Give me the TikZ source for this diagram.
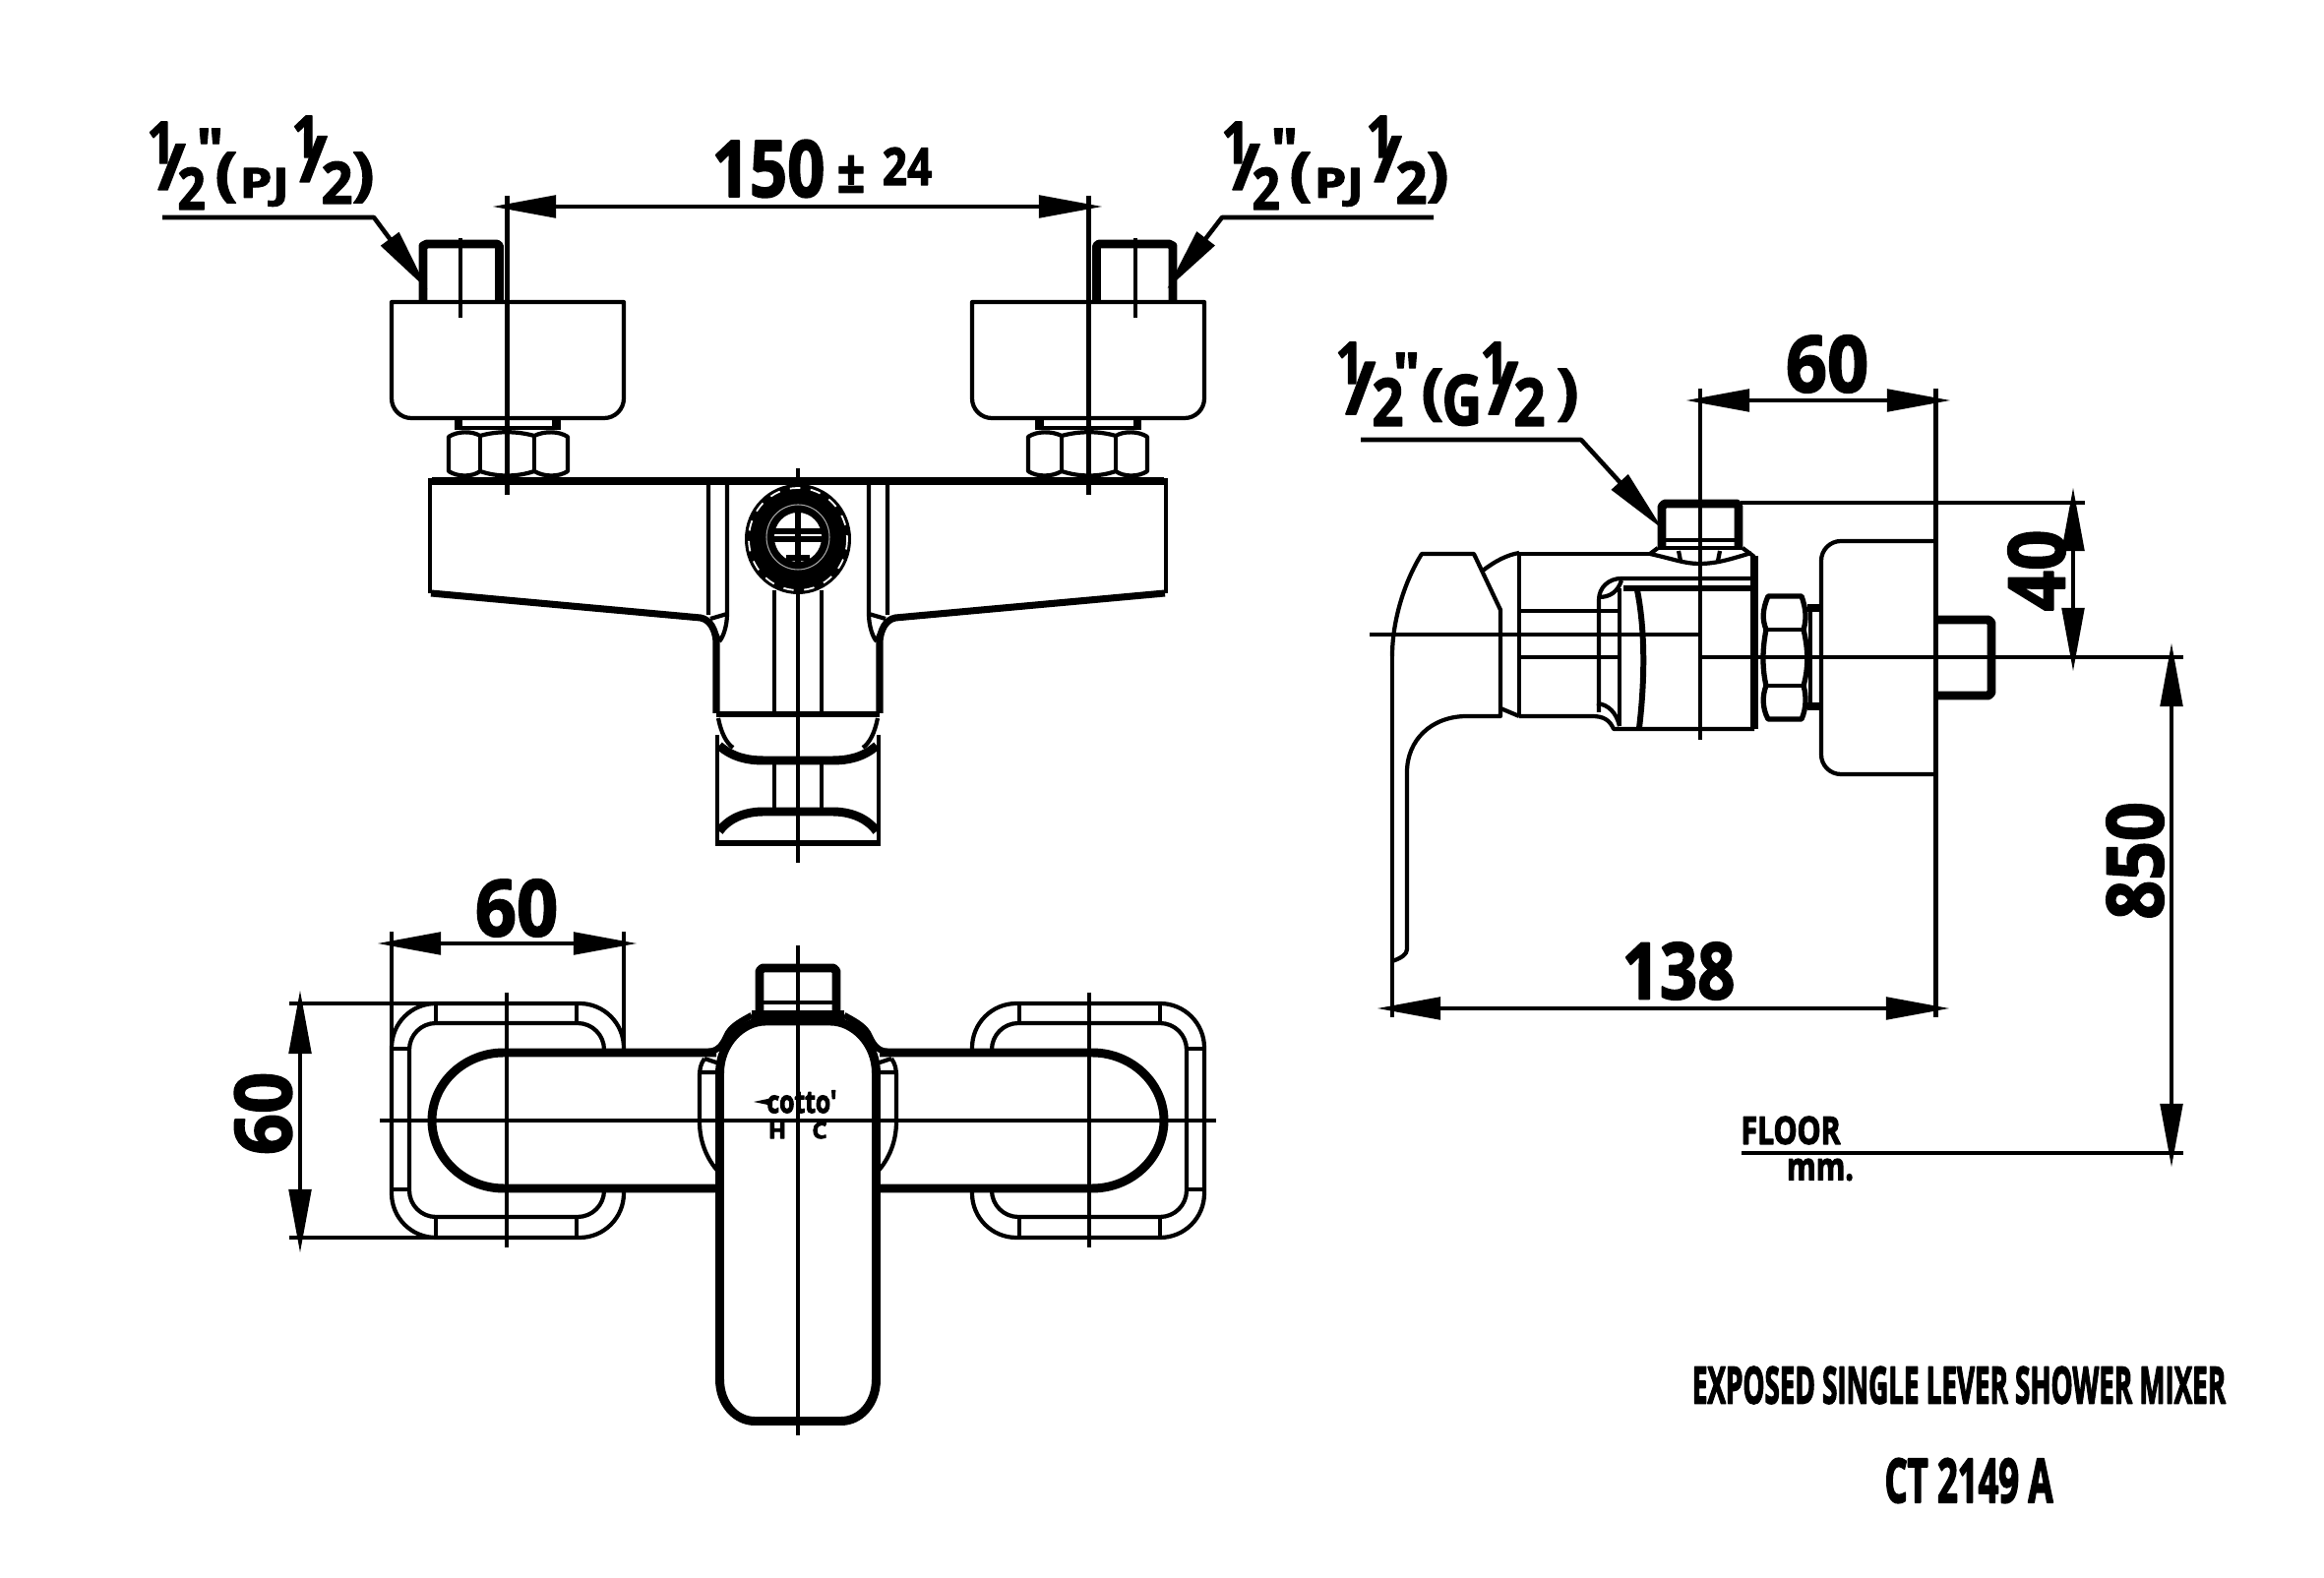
\documentclass[tikz,border=0pt]{standalone}
\usepackage{fontspec}
\newfontfamily\dimfont[BoldFeatures={FakeBold=2.2}]{Open Sans}
\newfontfamily\blobfont[BoldFeatures={FakeBold=3.5}]{Open Sans}
\usetikzlibrary{arrows.meta}
\newlength{\pxu}
\setlength{\pxu}{.2845pt}
% one glyph of a size label, placed by offset and rise in reference pixels
\newcommand{\glyphat}[3]{\rlap{\kern#1\pxu\raisebox{#2\pxu}{#3}}}
\newcommand{\narrow}[1]{\scalebox{.84}[1]{#1}}
\newcommand{\pjlabel}{%
  \glyphat{-2}{41}{\narrow{1}}%
  \glyphat{9}{14}{\scalebox{1.15}[1.1]{/}}%
  \glyphat{29}{-6}{\narrow{2}}%
  \glyphat{48}{34}{\char34}%
  \glyphat{67}{10}{\scalebox{1.15}[1]{(}}%
  \glyphat{92}{6}{\fontsize{12}{12}\selectfont\scalebox{1.25}[1]{PJ}}%
  \glyphat{145}{47}{\narrow{1}}%
  \glyphat{153}{22}{\scalebox{1.15}[1.1]{/}}%
  \glyphat{175}{0}{\scalebox{.95}[1]{2}}%
  \glyphat{206}{10}{\scalebox{1.15}[1]{)}}%
  \hspace{228\pxu}}
\newcommand{\glabel}{%
  \glyphat{-2}{41}{\narrow{1}}%
  \glyphat{8}{10}{\scalebox{1.25}[1.25]{/}}%
  \glyphat{35}{-2}{\scalebox{.95}[1.14]{2}}%
  \glyphat{56}{30}{\char34}%
  \glyphat{85}{12}{\scalebox{1.15}[1.05]{(}}%
  \glyphat{106}{-1}{\scalebox{.95}[1.2]{G}}%
  \glyphat{145}{41}{\narrow{1}}%
  \glyphat{153}{10}{\scalebox{1.25}[1.25]{/}}%
  \glyphat{179}{-2}{\scalebox{.95}[1.14]{2}}%
  \glyphat{222}{12}{\scalebox{1.15}[1.05]{)}}%
  \hspace{244\pxu}}
\tikzset{
  partline/.style={line width=1.2pt},
  heavyline/.style={line width=2.55pt},
  dimline/.style={line width=1.4pt,<->},
  leaderline/.style={line width=1.3pt,->},
  dimtext/.style={font=\dimfont\bfseries\fontsize{22.7}{24}\selectfont,inner sep=0pt,xscale=.84,transform shape},
  sizetext/.style={font=\dimfont\bfseries\fontsize{16.8}{18}\selectfont,inner sep=0pt,anchor=base west},
  smalltext/.style n args={2}{font=\blobfont\bfseries\fontsize{#1}{#1}\selectfont,inner sep=0pt,xscale=#2,transform shape}
}
\begin{document}
\begin{tikzpicture}[x=0.01cm,y=-0.01cm,>={Triangle[length=18.5pt,width=6.3pt]},line join=round]
    \useasboundingbox (0,0) rectangle (2362,1604);

    % dimension ends
    \coordinate (pitchL) at (500,210);
    \coordinate (pitchR) at (1121,210);
    \coordinate (plateL) at (383,959);
    \coordinate (plateR) at (648,959);
    \coordinate (plateT) at (305,1006);
    \coordinate (plateB) at (305,1274);
    \coordinate (depthL) at (1713,407);
    \coordinate (depthR) at (1983,407);
    \coordinate (reachL) at (1399,1025);
    \coordinate (reachR) at (1982,1025);
    \coordinate (riseT) at (2107,495);
    \coordinate (riseB) at (2107,683);
    \coordinate (floorT) at (2207,653);
    \coordinate (floorB) at (2207,1187);

    % the two mirrored halves of both front views
    \foreach \flip/\off in {1/0,-1/1622}{
    \begin{scope}[shift={(\off,0)},xscale=\flip]
        % inlet
        \draw[heavyline] (430,305) -- (430,250) -- (434,248) -- (505,248) -- (507.5,250) -- (507.5,305);
        \draw[partline] (468,242) -- (468,323);
        \draw[partline] (515.5,199) -- (515.5,503);
        \draw[partline] (398,307) [rounded corners=.2cm] -- (398,425) -- (634,425) [sharp corners] -- (634,307) -- cycle;
        \draw[heavyline] (466,425) -- (466,437);
        \draw[heavyline] (565.5,425) -- (565.5,437);
        \draw[partline] (466,435) -- (565,435);
        \draw[partline] (456,444) .. controls (465,438) and (480,438) .. (488,443) .. controls (505,438) and (525,438) .. (543,443) .. controls (553,438) and (568,438) .. (577,444) -- (577,479) .. controls (568,485) and (553,485) .. (543,479) .. controls (525,485) and (505,485) .. (488,479) .. controls (480,485) and (465,485) .. (456,479) -- cycle;
        \draw[partline] (488,443) -- (488,479) (543,443) -- (543,479);
        % body
        \draw[heavyline] (811,489) -- (439,489);
        \draw[partline] (437,486) -- (437,603);
        \draw[line width=2pt] (438,603) -- (712,628) .. controls (722,630) and (727,640) .. (728,652) -- (728,725);
        \draw[partline] (720,492) -- (720,625) (739,492) -- (739,624) .. controls (739,636) and (735,648) .. (731,652);
        \draw[partline] (722,629) -- (739,624) (722,632) -- (731,650);
        \draw[partline] (787,600) -- (787,725) (787,777) -- (787,823);
        \draw[line width=1.8pt] (728,726) -- (811,726);
        \draw[partline] (730,730) .. controls (733,745) and (738,755) .. (745,760);
        \draw[line width=1.4pt] (729,747) -- (729,857);
        \draw[line width=1.9pt] (727,857) -- (811,857);
        \draw[heavyline] (731,758) .. controls (745,770) and (760,773) .. (776,773) -- (811,773);
        \draw[heavyline] (731,845) .. controls (742,830) and (760,825) .. (776,825) -- (811,825);
        % plan view
        \draw[partline,rounded corners=.45cm] (634,1068) -- (634,1020) -- (398,1020) -- (398,1258) -- (634,1258) -- (634,1208);
        \draw[partline,rounded corners=.27cm] (614,1068) -- (614,1040) -- (416,1040) -- (416,1237) -- (614,1237) -- (614,1208);
        \draw[partline] (443,1020) -- (443,1040) (586,1020) -- (586,1040) (443,1237) -- (443,1258) (586,1237) -- (586,1258);
        \draw[partline] (398,1066) -- (416,1066) (398,1209) -- (416,1209);
        \draw[heavyline] (728,1070) -- (512,1070) .. controls (472,1070) and (439,1101) .. (439,1139) .. controls (439,1177) and (472,1208) .. (512,1208) -- (728,1208);
        \draw[partline] (515,1009) -- (515,1268);
        \draw[partline] (716,1076) .. controls (712,1082) and (711,1086) .. (711,1095) -- (711,1140) .. controls (711,1160) and (718,1178) .. (731,1192);
        \draw[partline] (711,1090) -- (731,1090) (716,1076) -- (731,1081);
        \draw[line width=1.8pt] (720,1069) .. controls (732,1068) and (735,1060) .. (740,1050) .. controls (745,1042) and (755,1037) .. (764,1032);
        \draw[heavyline] (731.5,1091) .. controls (731.5,1060) and (755,1038) .. (778,1038) -- (811,1038);
        \draw[heavyline] (731.5,1091) -- (731.5,1402) .. controls (731.5,1427) and (748,1444.5) .. (767,1444.5) -- (811,1444.5);
        \draw[line width=3pt] (764,1032) -- (811,1032);
        \draw[heavyline] (772,1028) -- (772,987) -- (775,984) -- (811,984);
        \draw[partline] (772,1019) -- (811,1019);
    \end{scope}
    }

    \draw[partline] (811,476) -- (811,877);
    \draw[partline] (811,961) -- (811,1459);
    \draw[partline] (386,1139) -- (1236,1139);

    % outlet seen from the front
    \fill (811,548) ellipse [x radius=54,y radius=56];
    \draw[white,line width=.5pt,dashed] (811,548) ellipse [x radius=50,y radius=52];
    \draw[gray!70,line width=.3pt] (811,546) ellipse [x radius=32,y radius=33];
    \fill[white] (811,546) ellipse [x radius=24,y radius=25];
    \draw[line width=1.5pt] (787,540) -- (835,540) (787,548) -- (835,548) (799,567) -- (823,567);
    \draw[line width=1.5pt] (811,518) -- (811,575);

    % side view
    \draw[partline] (1415,667) .. controls (1415,630) and (1428,590) .. (1445,563) -- (1498,563) -- (1525,620) -- (1525,728) -- (1491,728) .. controls (1455,728) and (1430,752) .. (1430,785) -- (1430,965) .. controls (1430,970) and (1424,974) .. (1415,977);
    \draw[partline] (1415,667) -- (1415,1034);
    \draw[partline] (1392,645) -- (1728,645);
    \draw[partline] (1507,580) .. controls (1520,570) and (1532,564) .. (1544,562);
    \draw[partline] (1525,720) -- (1544,728);
    \draw[line width=1.4pt] (1544,562) -- (1544,728);
    \draw[partline] (1544,563) -- (1677,563);
    \draw[partline] (1544,728) -- (1618,728) .. controls (1630,728) and (1636,732) .. (1640,741) -- (1783,741);
    \draw[line width=2pt] (1783,565) -- (1783,741);
    \draw[partline] (1544,621) -- (1645,621) (1544,668) -- (1645,668);
    \draw[partline] (1728,668) -- (2219,668);
    \draw[partline] (1625,724) -- (1625,610) .. controls (1625,597) and (1635,588) .. (1648,588) -- (1781,588);
    \draw[line width=1.7pt] (1650,598) -- (1781,598);
    \draw[line width=1.4pt] (1646,598) -- (1646,738);
    \draw[line width=1.7pt] (1664,600) .. controls (1672,640) and (1672,690) .. (1666,740);
    \draw[partline] (1625,607) .. controls (1636,607) and (1644,602) .. (1648,590);
    \draw[partline] (1623,715) .. controls (1635,716) and (1643,725) .. (1646,738);
    \draw[heavyline] (1689,557) -- (1689,515) -- (1692,512) -- (1765,512) -- (1767,515) -- (1767,557);
    \draw[partline] (1769,511) -- (2119,511);
    \draw[partline] (1689,549) -- (1767,549) (1685,557) -- (1771,557);
    \draw[partline] (1677,563) .. controls (1700,568) and (1712,573) .. (1727,573) .. controls (1745,573) and (1760,568) .. (1780,562);
    \draw[partline] (1677,563) -- (1685,557) (1771,557) -- (1783,566) (1706,560) -- (1708,570) (1748,560) -- (1746,570);
    \draw[partline] (1728,395) -- (1728,752);
    \draw[line width=1.5pt] (1797,606) -- (1831,606) .. controls (1836,620) and (1836,630) .. (1833,640) .. controls (1838,660) and (1838,680) .. (1833,697) .. controls (1836,707) and (1836,720) .. (1831,731) -- (1797,731) .. controls (1791,720) and (1791,707) .. (1795,697) .. controls (1791,680) and (1791,660) .. (1795,640) .. controls (1791,630) and (1791,620) .. (1797,606) -- cycle;
    \draw[partline] (1795,640) -- (1833,640) (1795,697) -- (1833,697);
    \draw[heavyline] (1837,618) -- (1849,618) (1837,718) -- (1849,718);
    \draw[partline] (1840,620) -- (1840,716);
    \draw[partline,rounded corners=.2cm] (1967,550) -- (1851,550) -- (1851,787) -- (1967,787);
    \draw[partline] (1967.5,395) -- (1967.5,1034);
    \draw[heavyline] (1967,630) -- (2021,630) -- (2024,633) -- (2024,704) -- (2021,707) -- (1967,707);

    % dimensions
    \draw[partline] (398,947) -- (398,1066) (634,947) -- (634,1066);
    \draw[partline] (294,1020) -- (443,1020) (294,1258) -- (443,1258);
    \draw[partline] (1770,1172) -- (2219,1172);
    \draw[dimline] (pitchL) -- (pitchR);
    \draw[dimline] (plateL) -- (plateR);
    \draw[dimline] (plateT) -- (plateB);
    \draw[dimline] (depthL) -- (depthR);
    \draw[dimline] (reachL) -- (reachR);
    \draw[dimline] (riseT) -- (riseB);
    \draw[dimline] (floorT) -- (floorB);

    % leaders
    \coordinate (inletL) at (165,221);
    \coordinate (inletLk) at (380,221);
    \coordinate (inletLt) at (435,295);
    \coordinate (inletR) at (1457,221);
    \coordinate (inletRk) at (1242,221);
    \coordinate (inletRt) at (1186,294);
    \coordinate (outlet) at (1383,447);
    \coordinate (outletk) at (1607,447);
    \coordinate (outlett) at (1690,538);
    \draw[leaderline] (inletL) -- (inletLk) -- (inletLt);
    \draw[leaderline] (inletR) -- (inletRk) -- (inletRt);
    \draw[leaderline] (outlet) -- (outletk) -- (outlett);

    % labels
    \node[sizetext] (labelL) at (149,207) {\pjlabel};
    \node[sizetext] (labelR) at (1241,207) {\pjlabel};
    \node[sizetext] (labelG) at (1357,431) {\glabel};
    \node[dimtext] (pitch) at (781,171.5) {150};
    \node[dimtext,font=\dimfont\bfseries\fontsize{17}{17}\selectfont] (pm) at (865,177) {±};
    \node[dimtext,font=\dimfont\bfseries\fontsize{15}{15}\selectfont] (tol) at (922,169) {24};
    \node[dimtext,xscale=1.1] (depth) at (1857,370) {60};
    \node[dimtext,xscale=1.1] (plate) at (525,923) {60};
    \node[rotate=90,dimtext,xscale=1.1] (plateh) at (267.5,1132) {60};
    \node[dimtext] (reach) at (1706,987) {138};
    \node[rotate=90,dimtext,xscale=1.08] (rise) at (2070,580) {40};
    \node[rotate=90,dimtext,xscale=1.04] (floorh) at (2170,875) {850};
    \node[smalltext={11}{.78}] (floor) at (1820,1149) {FLOOR};
    \node[smalltext={11}{.78}] (unit) at (1850,1189) {mm.};
    \node[smalltext={14.7}{.537}] (title) at (1991,1408) {EXPOSED SINGLE LEVER SHOWER MIXER};
    \node[smalltext={17.5}{.59}] (model) at (2001,1505) {CT 2149 A};
    % maker's mark
    \fill (766,1120) -- (785,1116) -- (785,1124) -- cycle;
    \node[smalltext={9}{.78}] (mark) at (815,1120) {cotto'};
    \node[smalltext={6.5}{1.05}] (hot) at (790,1149) {H};
    \node[smalltext={6.5}{1.05}] (cold) at (833,1149) {C};
\end{tikzpicture}
\end{document}
